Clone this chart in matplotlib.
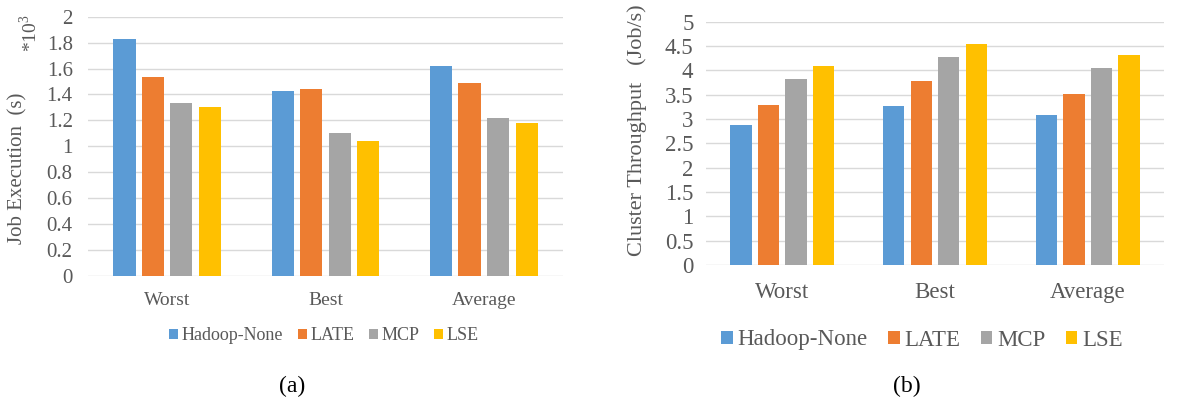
import matplotlib
matplotlib.use("Agg")
import matplotlib.pyplot as plt
from matplotlib.patches import Patch
import numpy as np

categories = ["Worst", "Best", "Average"]
series = ["Hadoop-None", "LATE", "MCP", "LSE"]
colors = ["#5B9BD5", "#ED7D31", "#A5A5A5", "#FFC000"]

# (a) job execution time, in thousands of seconds
exec_hadoop = [1.83, 1.43, 1.62]
exec_late = [1.535, 1.44, 1.49]
exec_mcp = [1.335, 1.105, 1.215]
exec_lse = [1.30, 1.04, 1.18]

# (b) cluster throughput, jobs per second
thr_hadoop = [2.88, 3.27, 3.08]
thr_late = [3.29, 3.78, 3.51]
thr_mcp = [3.82, 4.28, 4.04]
thr_lse = [4.08, 4.55, 4.31]

exec_ticks = [0, 0.2, 0.4, 0.6, 0.8, 1, 1.2, 1.4, 1.6, 1.8, 2]
exec_tick_labels = ["0", "0.2", "0.4", "0.6", "0.8", "1", "1.2", "1.4", "1.6", "1.8", "2"]
thr_ticks = [0, 0.5, 1, 1.5, 2, 2.5, 3, 3.5, 4, 4.5, 5]
thr_tick_labels = ["0", "0.5", "1", "1.5", "2", "2.5", "3", "3.5", "4", "4.5", "5"]

plt.rcParams["font.family"] = ["Liberation Serif", "DejaVu Serif"]
plt.rcParams["mathtext.fontset"] = "custom"
plt.rcParams["mathtext.rm"] = "Liberation Serif"

TXT = "#595959"
GRID = "#D9D9D9"

W, H = 1177, 405
fig = plt.figure(figsize=(W / 100, H / 100), dpi=100)


def px_axes(x0, x1, ytop, ybot):
    return fig.add_axes([x0 / W, 1 - ybot / H, (x1 - x0) / W, (ybot - ytop) / H])


def draw_panel(ax, data, ticks, tick_labels, ymax, tick_fs, cat_fs, cat_pad, ypad):
    x = np.arange(len(categories))
    step, width = 0.18, 0.14
    for i, (vals, col) in enumerate(zip(data, colors)):
        ax.bar(x + (i - 1.5) * step, vals, width=width, color=col, zorder=3)
    ax.set_xlim(-0.5, len(categories) - 0.5)
    ax.set_ylim(0, ymax)
    ax.set_yticks(ticks)
    ax.set_yticklabels(tick_labels, fontsize=tick_fs, color=TXT)
    ax.set_xticks(x)
    ax.set_xticklabels(categories, fontsize=cat_fs, color=TXT)
    ax.tick_params(axis="both", length=0)
    ax.tick_params(axis="x", pad=cat_pad)
    ax.tick_params(axis="y", pad=ypad)
    ax.grid(axis="y", color=GRID, linewidth=1.0, zorder=0)
    for s in ax.spines.values():
        s.set_visible(False)


ax1 = px_axes(88, 563, 16.7, 275.7)
draw_panel(ax1, [exec_hadoop, exec_late, exec_mcp, exec_lse],
           exec_ticks, exec_tick_labels, 2, 15, 14, 12, 11)

ax2 = px_axes(706, 1164, 21.7, 265)
draw_panel(ax2, [thr_hadoop, thr_late, thr_mcp, thr_lse],
           thr_ticks, thr_tick_labels, 5, 16.5, 16.5, 12, 9)

# axis titles
fig.text(18 / W, 1 - 168 / H, "Job Execution  (s)", rotation=90, ha="center",
         va="center", fontsize=15, color=TXT)
fig.text(30 / W, 1 - 33 / H, r"*10$^3$", rotation=90, ha="center",
         va="center", fontsize=14, color=TXT)
fig.text(637 / W, 1 - 130 / H, "Cluster Throughput   (Job/s)", rotation=90,
         ha="center", va="center", fontsize=16, color=TXT)

handles = [Patch(facecolor=c, edgecolor="none") for c in colors]
fig.legend(handles, series, loc="center", bbox_to_anchor=(324 / W, 1 - 336 / H),
           ncol=4, frameon=False, handlelength=0.5, handleheight=0.5,
           handletextpad=0.2, columnspacing=0.8,
           prop={"size": 13}, labelcolor=TXT)
fig.legend(handles, series, loc="center", bbox_to_anchor=(922 / W, 1 - 340 / H),
           ncol=4, frameon=False, handlelength=0.5, handleheight=0.5,
           handletextpad=0.2, columnspacing=0.9,
           prop={"size": 16.5}, labelcolor=TXT)

fig.text(292 / W, 1 - 386 / H, "(a)", ha="center", va="center",
         fontsize=17, color="black")
fig.text(907 / W, 1 - 386 / H, "(b)", ha="center", va="center",
         fontsize=17, color="black")

fig.savefig("out.png", dpi=100)
